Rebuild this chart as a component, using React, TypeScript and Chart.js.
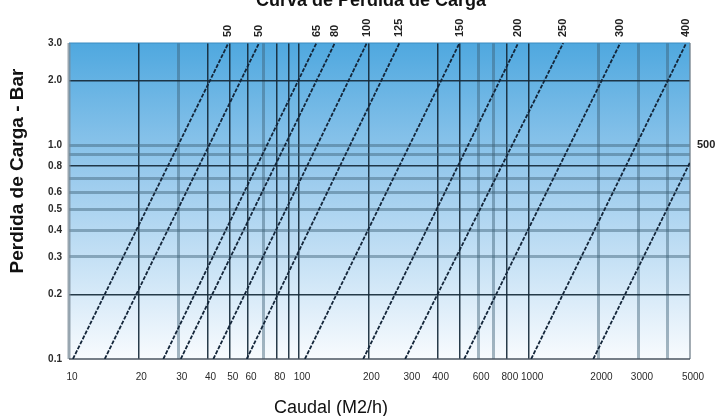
import React, { useEffect, useRef } from "react";
import { Chart, registerables } from "chart.js";

Chart.register(...registerables);

// Pipe sizes (labels of the diagonal lines)
const pipeSizes = ["50", "50", "65", "80", "100", "125", "150", "200", "250", "300", "400", "500"];
// Flow (m3/h) where each line is at the lowest loss
const flowAtLow = [10.4, 14.3, 25.7, 30.6, 42.4, 59.2, 106, 190, 289, 522, 1020, 1900];
const lossAtLow = [0.1, 0.1, 0.1, 0.1, 0.1, 0.1, 0.1, 0.1, 0.1, 0.1, 0.1, 0.1];
// Flow (m3/h) and loss (bar) at the upper end of each line
const flowAtHigh = [49.3, 67, 119, 143, 197, 273, 498, 896, 1406, 2488, 4817, 5000];
const lossAtHigh = [3, 3, 3, 3, 3, 3, 3, 3, 3, 3, 3, 0.83];

// Axes
const xTickValues = [10, 20, 30, 40, 50, 60, 70, 80, 90, 100, 200, 300, 400, 500, 600, 700, 800, 1000, 2000, 3000, 4000, 5000];
const xLabelValues = [10, 20, 30, 40, 50, 60, 80, 100, 200, 300, 400, 600, 800, 1000, 2000, 3000, 5000];
const xDarkGrid = [20, 40, 50, 60, 80, 90, 100, 200, 400, 500, 800, 1000];
const xLightGrid = [30, 70, 600, 700, 2000, 3000, 4000];

const yTickValues = [0.1, 0.2, 0.3, 0.4, 0.5, 0.6, 0.7, 0.8, 0.9, 1.0, 2.0, 3.0];
const yLabelValues = [0.1, 0.2, 0.3, 0.4, 0.5, 0.6, 0.8, 1.0, 2.0, 3.0];
const yDarkGrid = [0.2, 0.8, 2.0];
const yLightGrid = [0.3, 0.4, 0.5, 0.6, 0.7, 0.9, 1.0];

const RIGHT_LABEL_LOSS = 1.0;

const chartTitle = "Curva de Perdida de Carga";
const yTitle = "Perdida de Carga - Bar";
const xTitle = "Caudal (M2/h)";

const FONT = "'Liberation Sans', Arial, sans-serif";
const DARK = "rgba(22,42,58,0.92)";
const LIGHT = "rgba(60,95,118,0.45)";
const LINE_COLOR = "#14263a";

const near = (a: number, b: number) => Math.abs(a - b) < 1e-9 * Math.max(1, Math.abs(b));
const inList = (v: number, arr: number[]) => arr.some((a) => near(a, v));

const decorPlugin = {
  id: "decor",
  beforeDraw(chart: any) {
    const { ctx, chartArea: a } = chart;
    const g = ctx.createLinearGradient(0, a.top, 0, a.bottom);
    g.addColorStop(0, "#4fa8df");
    g.addColorStop(0.45, "#9fcdee");
    g.addColorStop(1, "#f8fbfe");
    ctx.save();
    ctx.fillStyle = g;
    ctx.fillRect(a.left, a.top, a.right - a.left, a.bottom - a.top);
    ctx.restore();
  },
  beforeDatasetsDraw(chart: any) {
    const { ctx, chartArea: a } = chart;
    ctx.save();
    ctx.strokeStyle = "rgba(120,138,150,0.75)";
    ctx.lineWidth = 3;
    ctx.beginPath();
    ctx.moveTo(a.left, a.top);
    ctx.lineTo(a.left, a.bottom);
    ctx.stroke();
    ctx.strokeStyle = "rgba(110,125,135,0.85)";
    ctx.lineWidth = 1.5;
    ctx.beginPath();
    ctx.moveTo(a.right, a.top);
    ctx.lineTo(a.right, a.bottom);
    ctx.stroke();
    ctx.strokeStyle = "#3b8cc2";
    ctx.lineWidth = 1.2;
    ctx.beginPath();
    ctx.moveTo(a.left, a.top);
    ctx.lineTo(a.right, a.top);
    ctx.stroke();
    ctx.strokeStyle = "#4a5560";
    ctx.lineWidth = 1.5;
    ctx.beginPath();
    ctx.moveTo(a.left, a.bottom);
    ctx.lineTo(a.right, a.bottom);
    ctx.stroke();
    ctx.restore();
  },
  afterDraw(chart: any) {
    const { ctx, chartArea: a } = chart;
    const xs = chart.scales.x;
    const ys = chart.scales.y;
    ctx.save();
    ctx.fillStyle = "#222";
    ctx.font = `bold 11px ${FONT}`;
    pipeSizes.forEach((label, i) => {
      if (lossAtHigh[i] >= 3) {
        const x = xs.getPixelForValue(flowAtHigh[i]);
        ctx.save();
        ctx.translate(x, a.top - 6);
        ctx.rotate(-Math.PI / 2);
        ctx.textAlign = "left";
        ctx.textBaseline = "middle";
        ctx.fillText(label, 0, 0);
        ctx.restore();
      } else {
        ctx.textAlign = "left";
        ctx.textBaseline = "middle";
        ctx.fillText(label, a.right + 7, ys.getPixelForValue(RIGHT_LABEL_LOSS));
      }
    });
    ctx.fillStyle = "#111";
    ctx.font = `bold 18px ${FONT}`;
    ctx.textAlign = "center";
    ctx.textBaseline = "alphabetic";
    ctx.fillText(chartTitle, 371, 6);

    ctx.save();
    ctx.translate(18, 171);
    ctx.rotate(-Math.PI / 2);
    ctx.font = `bold 19px ${FONT}`;
    ctx.textAlign = "center";
    ctx.textBaseline = "middle";
    ctx.fillText(yTitle, 0, 0);
    ctx.restore();

    ctx.font = `18px ${FONT}`;
    ctx.textAlign = "center";
    ctx.textBaseline = "alphabetic";
    ctx.fillText(xTitle, 331, 413);
    ctx.restore();
  },
};

export default function App() {
  const ref = useRef<HTMLCanvasElement | null>(null);

  useEffect(() => {
    if (!ref.current) return;
    const datasets = pipeSizes.map((label, i) => ({
      label,
      data: [
        { x: flowAtLow[i], y: lossAtLow[i] },
        { x: flowAtHigh[i], y: lossAtHigh[i] },
      ],
      showLine: true,
      borderColor: LINE_COLOR,
      borderWidth: 1.8,
      borderDash: [4, 1.5],
      pointRadius: 0,
      fill: false,
    }));

    const chart = new Chart(ref.current, {
      type: "scatter",
      data: { datasets },
      plugins: [decorPlugin],
      options: {
        responsive: false,
        animation: false,
        devicePixelRatio: 1,
        layout: { padding: { top: 43, right: 28, left: 0, bottom: 0 } },
        plugins: {
          legend: { display: false },
          tooltip: { enabled: false },
          title: { display: false },
        },
        scales: {
          x: {
            type: "logarithmic",
            min: 10,
            max: 5000,
            afterBuildTicks: (scale: any) => {
              scale.ticks = xTickValues.map((v) => ({ value: v }));
            },
            afterFit: (scale: any) => {
              scale.height = 57;
            },
            border: { display: false },
            grid: {
              drawTicks: false,
              color: (c: any) => {
                const v = c.tick?.value;
                if (inList(v, xDarkGrid)) return DARK;
                if (inList(v, xLightGrid)) return LIGHT;
                return "rgba(0,0,0,0)";
              },
              lineWidth: (c: any) => {
                const v = c.tick?.value;
                if (inList(v, xLightGrid)) return 3;
                return 1.5;
              },
            },
            ticks: {
              autoSkip: false,
              maxRotation: 0,
              minRotation: 0,
              padding: 12,
              labelOffset: 3,
              color: "#2a2a2a",
              font: { size: 10, family: FONT },
              callback: (v: any) => (inList(Number(v), xLabelValues) ? String(v) : ""),
            },
          },
          y: {
            type: "logarithmic",
            min: 0.1,
            max: 3,
            afterBuildTicks: (scale: any) => {
              scale.ticks = yTickValues.map((v) => ({ value: v }));
            },
            afterFit: (scale: any) => {
              scale.width = 69;
            },
            border: { display: false },
            grid: {
              drawTicks: false,
              color: (c: any) => {
                const v = c.tick?.value;
                if (inList(v, yDarkGrid)) return DARK;
                if (inList(v, yLightGrid)) return LIGHT;
                return "rgba(0,0,0,0)";
              },
              lineWidth: (c: any) => {
                const v = c.tick?.value;
                if (inList(v, yLightGrid)) return 3;
                return 1.5;
              },
            },
            ticks: {
              autoSkip: false,
              padding: 7,
              color: "#2a2a2a",
              font: { size: 10, weight: "bold", family: FONT },
              callback: (v: any) => (inList(Number(v), yLabelValues) ? Number(v).toFixed(1) : ""),
            },
          },
        },
      } as any,
    });
    return () => chart.destroy();
  }, []);

  return (
    <div style={{ position: "absolute", left: 0, top: 0, width: 718, height: 416, background: "#fff" }}>
      <canvas ref={ref} width={718} height={416} style={{ display: "block" }} />
    </div>
  );
}
